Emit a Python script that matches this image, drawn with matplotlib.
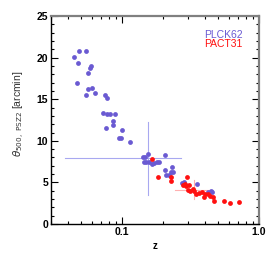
import matplotlib
matplotlib.use('Agg')
import matplotlib.pyplot as plt
from matplotlib.ticker import FixedLocator, MultipleLocator, NullFormatter

plt.rcParams['font.family'] = ['Liberation Sans', 'DejaVu Sans']

# PLCK (blue) redshift and theta_500
z_plck = [0.0483, 0.0543, 0.0444, 0.0475, 0.0592, 0.0582, 0.0560, 0.0469, 0.0556, 0.0595,
          0.0626, 0.0546, 0.0746, 0.0772, 0.0725, 0.0772, 0.0816, 0.0889, 0.0855, 0.0855,
          0.0759, 0.0988, 0.0946, 0.0972, 0.1139, 0.141, 0.1476, 0.1535, 0.1435, 0.150,
          0.157, 0.164, 0.170, 0.178, 0.184, 0.205, 0.205, 0.2305, 0.2254, 0.2344,
          0.208, 0.218, 0.2716, 0.2825, 0.350, 0.4436, 0.451, 0.4266]
t_plck = [20.8, 20.8, 20.1, 19.3, 19.0, 18.8, 18.2, 16.9, 16.2, 16.4,
          15.8, 15.5, 15.5, 15.1, 13.4, 13.2, 13.2, 13.2, 12.4, 11.9,
          11.5, 11.3, 10.4, 10.3, 9.9, 8.1, 8.1, 8.4, 7.45, 7.4,
          7.4, 7.2, 7.3, 7.45, 7.45, 8.3, 6.5, 6.8, 6.2, 6.25,
          5.85, 5.85, 4.96, 5.0, 4.77, 3.97, 3.8, 3.85]

# PACT (red)
z_pact = [0.1662, 0.1818, 0.228, 0.2265, 0.299, 0.2775, 0.289, 0.3056, 0.3006, 0.3289,
          0.334, 0.348, 0.364, 0.381, 0.401, 0.394, 0.424, 0.4385, 0.459, 0.467,
          0.556, 0.609, 0.713, 0.29, 0.311]
t_pact = [7.85, 5.7, 5.7, 5.17, 5.65, 4.69, 4.77, 4.65, 4.05, 4.24,
          3.97, 3.57, 3.76, 3.88, 3.64, 3.25, 3.57, 3.33, 3.21, 2.73,
          2.8, 2.56, 2.6, 4.57, 4.0]

# typical error crosses: (z, zlo, zhi, theta, tlo, thi)
err_plck = (0.153, 0.038, 0.267, 7.9, 3.49, 12.3)
err_pact = (0.334, 0.243, 0.431, 4.09, 2.97, 5.25)

blue = '#6a5ad2'
red = '#ff1010'

fig = plt.figure(figsize=(2.74, 2.57), dpi=100)
ax = fig.add_axes([0.186, 0.128, 0.759, 0.81])

for e, c in [(err_plck, '#a8a8f0'), (err_pact, '#ffb0b0')]:
    ax.plot([e[1], e[2]], [e[3], e[3]], color=c, lw=0.8)
    ax.plot([e[0], e[0]], [e[4], e[5]], color=c, lw=0.8)

ax.scatter(z_plck, t_plck, s=12, color=blue, lw=0, zorder=3)
ax.scatter(z_pact, t_pact, s=12, color=red, lw=0, zorder=4)

ax.set_xscale('log')
ax.set_xlim(0.03, 1.0)
ax.set_ylim(0, 25)
ax.xaxis.set_major_locator(FixedLocator([0.1, 1.0]))
ax.set_xticklabels(['0.1', '1.0'])
ax.xaxis.set_minor_locator(FixedLocator([0.03, 0.04, 0.05, 0.06, 0.07, 0.08, 0.09,
                                         0.2, 0.3, 0.4, 0.5, 0.6, 0.7, 0.8, 0.9]))
ax.xaxis.set_minor_formatter(NullFormatter())
ax.yaxis.set_major_locator(MultipleLocator(5))
ax.yaxis.set_minor_locator(MultipleLocator(1))

ax.tick_params(which='both', direction='in', top=True, right=True, labelsize=7.5, width=0.8)
ax.tick_params(which='major', length=5, pad=2)
ax.tick_params(which='minor', length=2.5)
for lab in ax.get_xticklabels() + ax.get_yticklabels():
    lab.set_fontweight('bold')

ax.spines['left'].set_linewidth(1.0)
ax.spines['bottom'].set_linewidth(1.0)
ax.spines['top'].set_color('#808080')
ax.spines['right'].set_color('#808080')
ax.spines['top'].set_linewidth(1.6)
ax.spines['right'].set_linewidth(1.6)

ax.set_xlabel('z', fontsize=7, fontweight='bold', labelpad=3)
ax.set_ylabel(r'$\theta_{\rm 500,\ PSZ2}$ [arcmin]', fontsize=7.5, color='#333333', labelpad=2)
ax.yaxis.set_label_coords(-0.115, 0.53)

ax.text(0.923, 0.91, 'PLCK62', color=blue, fontsize=7.5, ha='right', va='center', transform=ax.transAxes)
ax.text(0.923, 0.865, 'PACT31', color=red, fontsize=7.5, ha='right', va='center', transform=ax.transAxes)

fig.savefig('out.png', dpi=100)
